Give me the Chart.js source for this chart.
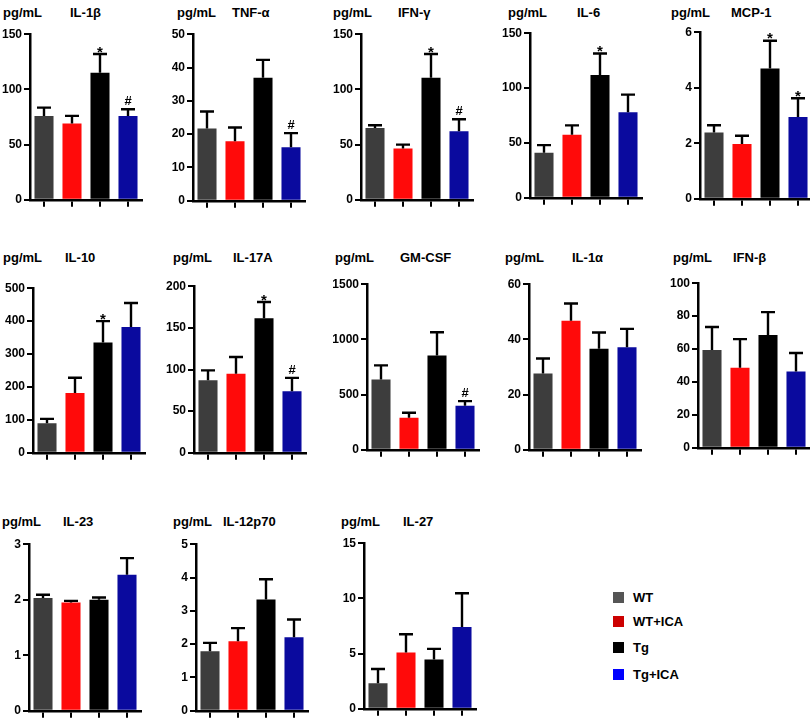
<!DOCTYPE html>
<html>
<head>
<meta charset="utf-8">
<script src="https://cdn.jsdelivr.net/npm/chart.js@4/dist/chart.umd.min.js"></script>
<style>
  body { margin: 0; background: #fff; width: 810px; height: 720px; overflow: hidden; position: relative; font-family: "Liberation Sans", Arial, sans-serif; }
  canvas { position: absolute; }
  .ttl { position: absolute; font-weight: bold; font-size: 13px; color: #000; line-height: 16px; }
  .leg { position: absolute; font-weight: bold; font-size: 13px; line-height: 14px; }
  .sq { position: absolute; width: 11px; height: 11px; }
</style>
</head>
<body>
<script>
// groups and cytokines
const groups = ['WT', 'WT+ICA', 'Tg', 'Tg+ICA'];
const cytokines = ['IL-1β', 'TNF-α', 'IFN-γ', 'IL-6', 'MCP-1',
                   'IL-10', 'IL-17A', 'GM-CSF', 'IL-1α', 'IFN-β',
                   'IL-23', 'IL-12p70', 'IL-27'];

// mean values per group (pg/mL), one entry per cytokine
const wtMean    = [76, 21.7, 65, 41, 2.39, 90, 87, 636, 27.6, 59.4, 2.03, 1.79, 2.31];
const wtIcaMean = [69, 17.9, 46.5, 57.5, 1.97, 182, 95, 291, 46.8, 48.6, 1.95, 2.09, 5.1];
const tgMean    = [115, 36.9, 110.5, 112, 4.69, 335, 161.5, 855, 36.6, 68.6, 2.0, 3.34, 4.47];
const tgIcaMean = [76, 16.1, 62, 78, 2.95, 382, 74, 399, 37.2, 46.4, 2.45, 2.21, 7.41];

// SEM per group
const wtSem    = [7.5, 5.1, 2.5, 7, 0.26, 13, 12, 129, 5.5, 14, 0.06, 0.25, 1.29];
const wtIcaSem = [7, 4.1, 3.5, 8.5, 0.30, 46, 20, 45, 6.2, 17.4, 0.03, 0.39, 1.65];
const tgSem    = [17, 5.4, 21.5, 19.5, 1.0, 65, 19.5, 210, 5.9, 13.8, 0.04, 0.61, 0.96];
const tgIcaSem = [6, 4.2, 11, 16, 0.67, 73, 16, 42, 6.6, 11.2, 0.30, 0.53, 3.06];

// significance marks above Tg and Tg+ICA bars
const tgMark    = ['*', '', '*', '*', '*', '*', '*', '', '', '', '', '', ''];
const tgIcaMark = ['#', '#', '#', '', '*', '', '#', '#', '', '', '', '', ''];

// y axis ticks
const yMax  = [150, 50, 150, 150, 6, 500, 200, 1500, 60, 100, 3, 5, 15];
const yStep = [50, 10, 50, 50, 2, 100, 50, 500, 20, 20, 1, 1, 5];

const barColors = ['#3d3d3d', '#ff0a0a', '#000000', '#0a0a9e'];
const legendColors = ['#555555', '#cc0000', '#000000', '#0000ff'];

// panel layout
const axisX   = [30, 193, 361, 530, 700, 33, 194, 367, 529, 698, 29, 196, 364];
const topY    = [33, 33, 33, 32, 31, 287, 285, 283, 283, 282, 543, 543, 542];
const bottomY = [200, 201, 200, 198, 199, 453, 453, 450, 450, 448, 711, 711, 709];
const pgX     = [3, 177, 333, 508, 671, 3, 173, 335, 505, 673, 2, 173, 341];
const nameX   = [70, 232, 398, 577, 731, 65, 233, 400, 572, 733, 63, 223, 403];
const titleY  = [5, 5, 5, 5, 5, 250, 250, 250, 250, 250, 514, 514, 514];

Chart.defaults.font.family = '"Liberation Sans", Arial, sans-serif';
Chart.defaults.color = '#000';

const AXIS_W = 36;

const errorBars = {
    id: 'errorBars',
    afterDatasetsDraw(chart, args, opts) {
        const ctx = chart.ctx;
        const meta = chart.getDatasetMeta(0);
        const y = chart.scales.y;
        ctx.save();
        meta.data.forEach((bar, i) => {
            const top = y.getPixelForValue(opts.means[i] + opts.sems[i]);
            ctx.strokeStyle = '#000';
            ctx.lineWidth = 2.4;
            ctx.beginPath();
            ctx.moveTo(bar.x, bar.y);
            ctx.lineTo(bar.x, top);
            ctx.moveTo(bar.x - 7, top);
            ctx.lineTo(bar.x + 7, top);
            ctx.stroke();
            const m = opts.marks[i];
            if (m) {
                ctx.fillStyle = '#000';
                ctx.textAlign = 'center';
                ctx.textBaseline = 'bottom';
                ctx.font = m === '*' ? 'bold 15px "Liberation Sans", Arial' : 'bold 13px "Liberation Sans", Arial';
                ctx.fillText(m, bar.x, top + (m === '*' ? 6 : -1));
            }
        });
        ctx.restore();
    }
};

function addText(cls, txt, x, y) {
    const d = document.createElement('div');
    d.className = cls;
    d.textContent = txt;
    d.style.left = x + 'px';
    d.style.top = y + 'px';
    document.body.appendChild(d);
}

cytokines.forEach((name, k) => {
    addText('ttl', 'pg/mL', pgX[k], titleY[k]);
    addText('ttl', name, nameX[k], titleY[k]);

    const c = document.createElement('canvas');
    const w = AXIS_W + 112 + 8;
    const h = bottomY[k] - topY[k] + 17;
    c.width = w;
    c.height = h;
    c.style.left = (axisX[k] - AXIS_W) + 'px';
    c.style.top = (topY[k] - 8) + 'px';
    document.body.appendChild(c);

    const means = [wtMean[k], wtIcaMean[k], tgMean[k], tgIcaMean[k]];
    const sems = [wtSem[k], wtIcaSem[k], tgSem[k], tgIcaSem[k]];
    const marks = ['', '', tgMark[k], tgIcaMark[k]];

    new Chart(c.getContext('2d'), {
        type: 'bar',
        data: {
            labels: groups,
            datasets: [{
                data: means,
                backgroundColor: barColors,
                borderWidth: 0,
                barPercentage: 0.68,
                categoryPercentage: 1
            }]
        },
        options: {
            responsive: false,
            animation: false,
            layout: { padding: { top: 8, right: 8, left: 0, bottom: 2 } },
            plugins: {
                legend: { display: false },
                tooltip: { enabled: false },
                errorBars: { means, sems, marks }
            },
            scales: {
                x: {
                    offset: true,
                    grid: { offset: false, drawOnChartArea: false, tickLength: 7, color: '#000', lineWidth: 2 },
                    border: { color: '#000', width: 2.5 },
                    ticks: { display: false }
                },
                y: {
                    min: 0,
                    max: yMax[k],
                    afterFit: s => { s.width = AXIS_W; },
                    grid: { drawOnChartArea: false, tickLength: 6, color: '#000', lineWidth: 2 },
                    border: { color: '#000', width: 2.5 },
                    ticks: {
                        stepSize: yStep[k],
                        padding: 2,
                        font: { size: 12, weight: 'bold' },
                        color: '#000',
                        callback: v => String(v)
                    }
                }
            }
        },
        plugins: [errorBars]
    });
});

// legend
const legendY = [592, 616, 642, 669];
groups.forEach((g, i) => {
    const s = document.createElement('div');
    s.className = 'sq';
    s.style.left = '613px';
    s.style.top = (legendY[i]) + 'px';
    s.style.background = legendColors[i];
    document.body.appendChild(s);
    addText('leg', g, 633, legendY[i] - 1);
});
</script>
</body>
</html>
